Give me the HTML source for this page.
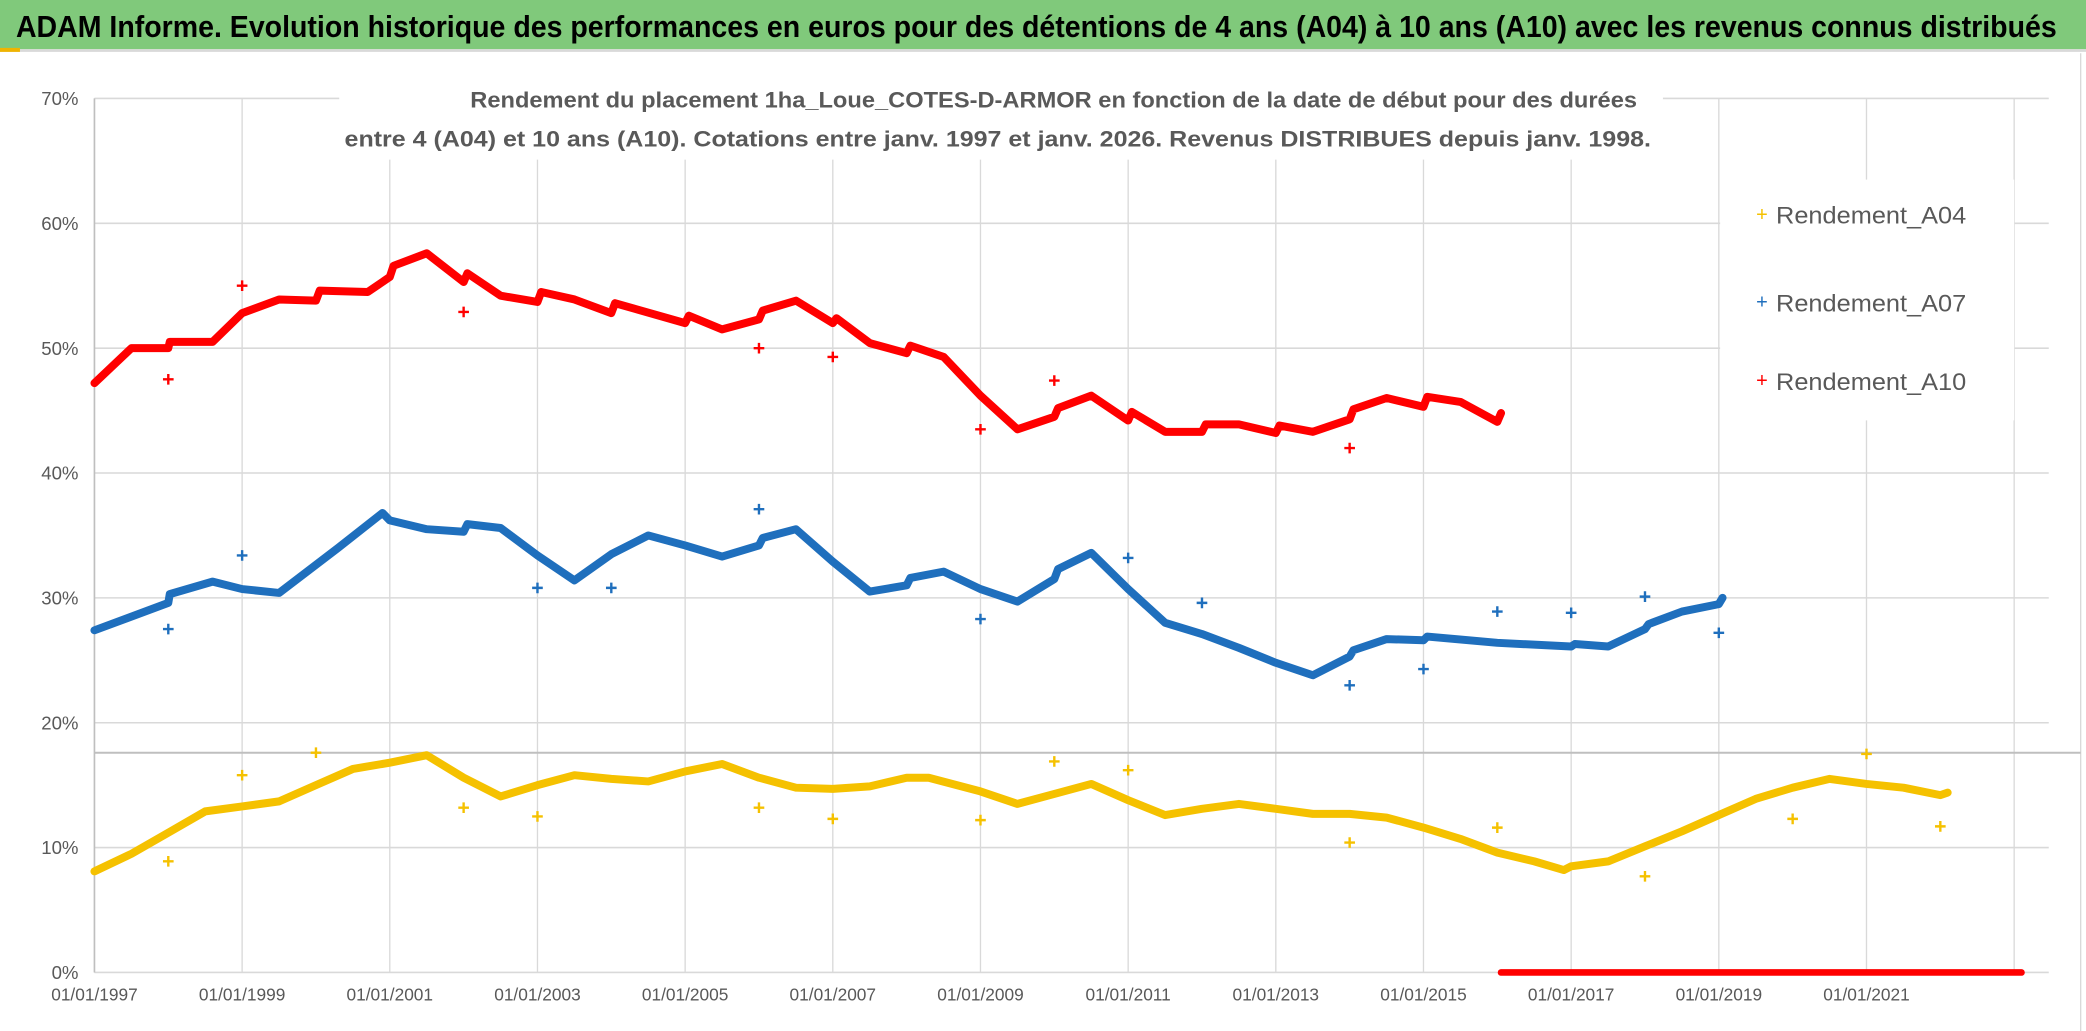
<!DOCTYPE html>
<html><head><meta charset="utf-8"><style>
html,body{margin:0;padding:0;background:#fff;}
svg{display:block;}
text{font-family:"Liberation Sans",sans-serif;}
</style></head><body>
<svg id="chart" width="2086" height="1031" viewBox="0 0 1568 775" preserveAspectRatio="none" xmlns="http://www.w3.org/2000/svg">
<rect x="0" y="0" width="1568" height="775" fill="#fff"/>
<rect x="0" y="0" width="1568" height="37" fill="#80c97b"/>
<rect x="0" y="37" width="1568" height="2" fill="#d9d9d9"/>
<rect x="0" y="36" width="15" height="3" fill="#f0b400"/>
<text x="12" y="28" font-size="23" font-weight="bold" fill="#000" textLength="1534" lengthAdjust="spacingAndGlyphs">ADAM Informe. Evolution historique des performances en euros pour des détentions de 4 ans (A04) à 10 ans (A10) avec les revenus connus distribués</text>
<line x1="1564" y1="40" x2="1564" y2="775" stroke="#d9d9d9" stroke-width="1"/>
<g id="grid"></g>
<g id="axes"></g>
<g id="series"></g>
<g>
<rect x="255" y="58" width="995" height="62" fill="#fff"/>
<text x="792" y="81" font-size="17" font-weight="bold" fill="#595959" text-anchor="middle" textLength="877" lengthAdjust="spacingAndGlyphs">Rendement du placement 1ha_Loue_COTES-D-ARMOR en fonction de la date de début pour des durées</text>
<text x="750" y="110" font-size="17" font-weight="bold" fill="#595959" text-anchor="middle" textLength="982" lengthAdjust="spacingAndGlyphs">entre 4 (A04) et 10 ans (A10). Cotations entre janv. 1997 et janv. 2026. Revenus DISTRIBUES depuis janv. 1998.</text>
</g>
<g>
<rect x="1293" y="135" width="221" height="181" fill="#fff"/>
<g><text x="1320" y="166" font-size="15" fill="#f5c100">+</text><text x="1335" y="168" font-size="18" fill="#595959" textLength="143" lengthAdjust="spacingAndGlyphs">Rendement_A04</text></g>
<g><text x="1320" y="232" font-size="15" fill="#1f6fbd">+</text><text x="1335" y="234" font-size="18" fill="#595959" textLength="143" lengthAdjust="spacingAndGlyphs">Rendement_A07</text></g>
<g><text x="1320" y="291" font-size="15" fill="#ff0000">+</text><text x="1335" y="293" font-size="18" fill="#595959" textLength="143" lengthAdjust="spacingAndGlyphs">Rendement_A10</text></g>
</g>
</svg>
<script>
const yTicks=[0,10,20,30,40,50,60,70];
const xTickYears=[1997,1999,2001,2003,2005,2007,2009,2011,2013,2015,2017,2019,2021];
const xTickLabels=["01/01/1997","01/01/1999","01/01/2001","01/01/2003","01/01/2005","01/01/2007","01/01/2009","01/01/2011","01/01/2013","01/01/2015","01/01/2017","01/01/2019","01/01/2021"];
const refLineValue=17.6;
const a10Years=[1997,1997.5,1998,1998.02,1998.6,1999,1999.5,2000,2000.05,2000.7,2001,2001.05,2001.5,2002,2002.05,2002.5,2003,2003.05,2003.5,2004,2004.05,2005,2005.05,2005.5,2006,2006.05,2006.5,2007,2007.05,2007.5,2008,2008.05,2008.5,2009,2009.5,2010,2010.05,2010.5,2011,2011.05,2011.5,2012,2012.05,2012.5,2013,2013.05,2013.5,2014,2014.05,2014.5,2015,2015.05,2015.5,2016,2016.05];
const a10Values=[47.2,50.0,50.0,50.5,50.5,52.8,53.9,53.8,54.6,54.5,55.7,56.6,57.6,55.3,56.0,54.2,53.7,54.5,53.9,52.8,53.6,52.0,52.6,51.5,52.3,53.0,53.8,52.0,52.4,50.4,49.6,50.2,49.3,46.2,43.5,44.5,45.2,46.2,44.2,44.9,43.3,43.3,43.9,43.9,43.2,43.8,43.3,44.3,45.1,46.0,45.3,46.1,45.7,44.1,44.8];
const a10OutYears=[1998,1999,2002,2006,2007,2009,2010,2014];
const a10OutValues=[47.5,55.0,52.9,50.0,49.3,43.5,47.4,42.0];
const a10ZeroYears=[2016.05,2023.1];
const a10ZeroValues=[0,0];
const a07Years=[1997,1998,1998.02,1998.6,1999,1999.5,2000.3,2000.9,2001,2001.5,2002,2002.05,2002.5,2003,2003.5,2004,2004.5,2005,2005.5,2006,2006.05,2006.5,2007,2007.5,2008,2008.05,2008.5,2009,2009.5,2010,2010.05,2010.5,2011,2011.5,2012,2012.5,2013,2013.5,2014,2014.05,2014.5,2015,2015.05,2016,2017,2017.05,2017.5,2018,2018.05,2018.5,2019,2019.05];
const a07Values=[27.4,29.6,30.3,31.3,30.7,30.4,34.0,36.8,36.2,35.5,35.3,35.9,35.6,33.4,31.4,33.5,35.0,34.2,33.3,34.2,34.8,35.5,32.9,30.5,31.0,31.6,32.1,30.7,29.7,31.5,32.3,33.6,30.7,28.0,27.1,26.0,24.8,23.8,25.3,25.8,26.7,26.6,26.9,26.4,26.1,26.3,26.1,27.5,27.9,28.9,29.5,30.0];
const a07OutYears=[1998,1999,2003,2004,2006,2009,2011,2012,2014,2015,2016,2017,2018,2019];
const a07OutValues=[27.5,33.4,30.8,30.8,37.1,28.3,33.2,29.6,23.0,24.3,28.9,28.8,30.1,27.2];
const a04Years=[1997,1997.5,1998,1998.5,1999,1999.5,2000,2000.5,2001,2001.5,2002,2002.5,2003,2003.5,2004,2004.5,2005,2005.5,2006,2006.5,2007,2007.5,2008,2008.3,2009,2009.5,2010,2010.5,2011,2011.5,2012,2012.5,2013,2013.5,2014,2014.5,2015,2015.5,2016,2016.5,2016.9,2017,2017.5,2018,2018.5,2019,2019.5,2020,2020.5,2021,2021.5,2022,2022.1];
const a04Values=[8.1,9.5,11.2,12.9,13.3,13.7,15.0,16.3,16.8,17.4,15.6,14.1,15.0,15.8,15.5,15.3,16.1,16.7,15.6,14.8,14.7,14.9,15.6,15.6,14.5,13.5,14.3,15.1,13.8,12.6,13.1,13.5,13.1,12.7,12.7,12.4,11.6,10.7,9.6,8.9,8.2,8.5,8.9,10.1,11.3,12.6,13.9,14.8,15.5,15.1,14.8,14.2,14.4];
const a04OutYears=[1998,1999,2000,2002,2003,2006,2007,2009,2010,2011,2014,2016,2018,2020,2021,2022];
const a04OutValues=[8.9,15.8,17.6,13.2,12.5,13.2,12.3,12.2,16.9,16.2,10.4,11.6,7.7,12.3,17.5,11.7];

const NS="http://www.w3.org/2000/svg";
const X0=71,PXY=55.5,Y0=731,PXV=9.386,XR=1540;
function xs(y){return X0+(y-1997)*PXY;}
function ys(v){return Y0-v*PXV;}
function mk(tag,attrs,parent){const e=document.createElementNS(NS,tag);for(const k in attrs)e.setAttribute(k,attrs[k]);parent.appendChild(e);return e;}
const grid=document.getElementById('grid'),axes=document.getElementById('axes'),series=document.getElementById('series');
yTicks.forEach(v=>{
  const l=mk('line',{x1:X0,x2:XR,y1:ys(v),y2:ys(v),stroke:'#d9d9d9','stroke-width':1.2},grid);
  
  
  const t=mk('text',{x:X0-12,y:ys(v)+5,'font-size':14,fill:'#595959','text-anchor':'end'},axes);
  t.textContent=v+'%';
  
  
});
xTickYears.concat([2023]).forEach((yr,i)=>{
  const l=mk('line',{x1:xs(yr),x2:xs(yr),y1:ys(70),y2:ys(0),stroke:'#d9d9d9','stroke-width':1},grid);
  
  
});
xTickYears.forEach((yr,i)=>{
  const t=mk('text',{x:xs(yr),y:752,'font-size':13,fill:'#595959','text-anchor':'middle'},axes);
  t.textContent=xTickLabels[i];
  
  
});
const ax=mk('line',{x1:X0,x2:X0,y1:ys(70),y2:ys(0),stroke:'#bfbfbf','stroke-width':1.2},axes);


const rl=mk('line',{x1:X0,x2:1564,y1:ys(refLineValue),y2:ys(refLineValue),stroke:'#bfbfbf','stroke-width':1.5},grid);



function line(yrs,vals,color,name,w){
  const p=yrs.map((y,i)=>xs(y).toFixed(1)+','+ys(vals[i]).toFixed(1)).join(' ');
  const pl=mk('polyline',{points:p,fill:'none',stroke:color,'stroke-width':w,'stroke-linejoin':'round','stroke-linecap':'round'},series);
  
  
}
function plus(yrs,vals,color,name){
  yrs.forEach((y,i)=>{
    const cx=xs(y),cy=ys(vals[i]);
    const pth=mk('path',{d:`M${cx-4},${cy}H${cx+4}M${cx},${cy-4}V${cy+4}`,stroke:color,'stroke-width':1.8},series);
    
    
  });
}
line(a04Years,a04Values,'#f5c100','series-a04',6);
plus(a04OutYears,a04OutValues,'#f5c100','point-a04');
line(a07Years,a07Values,'#1f6fbd','series-a07',6);
plus(a07OutYears,a07OutValues,'#1f6fbd','point-a07');
line(a10Years,a10Values,'#ff0000','series-a10',6);
plus(a10OutYears,a10OutValues,'#ff0000','point-a10');
line(a10ZeroYears,a10ZeroValues,'#ff0000','series-a10-zero',5);
</script>
</body></html>
